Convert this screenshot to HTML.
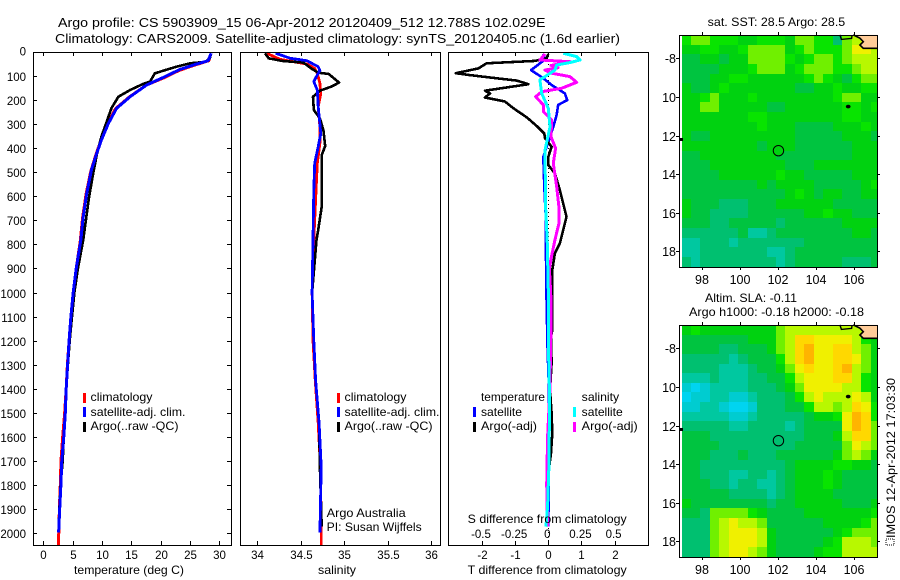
<!DOCTYPE html>
<html lang="en">
<head>
<meta charset="utf-8">
<title>Argo profile</title>
<style>
html,body{margin:0;padding:0;background:#fff;}
svg{display:block;font-family:"Liberation Sans",sans-serif;}
text{fill:#000;}
</style>
</head>
<body>
<svg id="chart" xmlns="http://www.w3.org/2000/svg" width="900" height="580" viewBox="0 0 900 580">
<rect x="0" y="0" width="900" height="580" fill="#fff"/>
<defs>
<clipPath id="clip-t"><rect x="33" y="52" width="198" height="493"/></clipPath>
<clipPath id="clip-s"><rect x="240" y="52" width="200" height="493"/></clipPath>
<clipPath id="clip-d"><rect x="448" y="52" width="200" height="493"/></clipPath>
<clipPath id="clip-m1"><rect x="681" y="35" width="196" height="232"/></clipPath>
<clipPath id="clip-m2"><rect x="681" y="325" width="196" height="232"/></clipPath>
</defs>
</svg>
<script>
// ---------- profile data (depth in m) ----------
var tempClimDepth=[4,35,52,75,108,136,187,235,300,368,424,495,590,688,785,900,1000,1100,1200,1300,1400,1500,1600,1700,1800,1900,2000,2052];
var tempClimValues=[28.6,28.2,26.0,23.2,20.4,17.6,14.6,12.3,10.9,9.8,9.0,8.1,7.3,6.7,6.3,5.6,5.1,4.7,4.4,4.1,3.9,3.65,3.3,3.02,2.9,2.75,2.65,2.56];
var tempArgoDepth=[4,25,40,46,60,76,88,122,132,157,185,233,296,351,428,504,601,726,782,900,1000,1100,1200,1300,1400,1500,1600,1700,1800,1900,1985];
var tempArgoValues=[28.6,28.4,27.6,25,22.7,20.5,19,18.2,17,14.8,12.8,11.6,10.7,9.9,9.1,8.5,7.8,7.1,6.8,5.9,5.3,4.9,4.5,4.2,3.9,3.75,3.5,3.3,2.95,2.75,2.6];
var tempSatDepth=[4,35,49,71,104,136,185,233,296,365,421,490,588,685,782,900,1000,1100,1200,1300,1400,1500,1600,1700,1800,1900,2000];
var tempSatValues=[28.6,28.1,26.1,23.3,20.5,17.6,14.8,12.5,11.1,9.9,9.1,8.2,7.4,6.8,6.4,5.6,5.1,4.7,4.4,4.15,3.9,3.75,3.5,3.15,3.0,2.8,2.6];

var salClimDepth=[4,29,49,67,88,129,171,226,310,379,462,615,782,1000,1200,1364,1544,1725,1975,2052];
var salClimValues=[34.11,34.26,34.57,34.66,34.69,34.72,34.73,34.70,34.72,34.72,34.69,34.67,34.65,34.63,34.64,34.665,34.7,34.725,34.735,34.735];
var salArgoDepth=[4,25,36,43,67,85,90,126,143,160,185,240,275,324,390,428,643,740,782,1000,1200,1364,1544,1725,1975];
var salArgoValues=[34.09,34.13,34.28,34.53,34.62,34.70,34.82,34.94,34.85,34.72,34.64,34.65,34.72,34.76,34.78,34.74,34.74,34.70,34.68,34.63,34.65,34.67,34.71,34.72,34.74];
var salSatDepth=[4,25,35,60,76,94,122,157,226,338,393,462,574,782,1000,1200,1364,1544,1725,1900,2000];
var salSatValues=[34.21,34.38,34.57,34.70,34.72,34.69,34.65,34.69,34.70,34.73,34.70,34.66,34.65,34.64,34.63,34.65,34.67,34.71,34.735,34.725,34.72];

var diffTempArgoDepth=[7,25,36,46,67,87,94,104,118,133,160,171,188,205,233,271,307,338,358,393,435,469,504,574,685,795,837,906,1156,1184,1295,1406,1503,1586,1669,1753,1836,1919,1975];
var diffTempArgoValues=[0,-0.05,-0.4,-1.86,-2.11,-2.79,-2.41,-1.81,-0.95,-0.6,-1.91,-1.76,-1.91,-1.31,-1.05,-0.65,-0.35,-0.12,-0.1,0.1,0,0,0.2,0.35,0.55,0.35,0.2,0.12,0.12,0.08,0.1,0.05,0.1,0.12,0.08,0,-0.05,-0.04,-0.02];
var diffTempSatDepth=[7,30,74,108,136,171,199,219,261,310,365,435,560,671,782,850,1045,1239,1406,1700,1975];
var diffTempSatValues=[-0.15,-0.1,-0.52,-0.15,0.1,0.5,0.57,0.3,0.25,0.15,0.02,-0.15,-0.12,-0.08,-0.08,-0.07,-0.05,-0.02,0.02,0.02,0];
var diffSalArgoDepth=[7,32,39,55,64,74,87,101,125,150,164,185,219,247,282,351,400,462,560,643,713,782,860,900,1030,1130,1406,1600,1800,1975];
var diffSalArgoValues=[-0.025,-0.063,0.163,0.02,0.075,-0.025,0.025,0.163,0.214,0.1,-0.05,-0.095,-0.038,-0.038,0.025,0.02,0.055,0.038,0.063,0.08,0.08,0.05,0.02,0.008,0.02,0.02,0.012,-0.005,-0.012,-0.005];
var diffSalSatDepth=[4,18,32,43,53,74,115,171,233,310,407,643,782,990,1198,1406,1503,1711,1891,1975];
var diffSalSatValues=[0.113,0.214,0.239,0.163,0.063,0.05,-0.063,-0.05,0,0.013,-0.025,-0.02,-0.008,0,0,0.008,0.008,0.005,-0.005,-0.018];

// ---------- tick labels ----------
var depthTicks=[0,100,200,300,400,500,600,700,800,900,1000,1100,1200,1300,1400,1500,1600,1700,1800,1900,2000];
var tempTicks=[0,5,10,15,20,25,30];
var salTicks=[34,34.5,35,35.5,36];
var diffTempTicks=[-2,-1,0,1,2];
var diffSalTicks=[-0.5,-0.25,0,0.25,0.5];
var lonTicks=[98,100,102,104,106];
var latTicks=[-8,-10,-12,-14,-16,-18];

// ---------- map grids (colour-scale level per 0.5 degree cell, north to south) ----------
var sstLevels=[
[6,7,7,6,6,6,5,5,6,6,6,5,7,7,6,6,3,7,8,9,9],
[5,5,6,6,5,5,6,7,7,7,7,5,6,7,6,6,6,7,9,9,8],
[4,4,5,5,4,5,5,7,7,7,7,6,5,6,7,7,6,7,8,8,8],
[4,4,4,4,5,5,5,6,7,7,7,5,6,7,7,7,6,6,7,8,8],
[4,4,4,5,5,6,6,5,5,5,5,5,5,6,7,6,5,4,6,7,7],
[5,4,4,5,6,5,5,5,5,5,5,5,4,4,5,5,6,5,5,6,6],
[5,5,6,7,5,5,5,6,5,5,5,5,5,5,5,5,6,7,7,5,5],
[5,5,7,7,5,5,5,5,5,4,4,5,5,5,5,5,5,6,6,5,6],
[5,5,5,5,5,5,5,6,6,5,5,5,5,5,5,5,5,6,6,5,5],
[5,5,5,5,5,5,5,5,6,5,5,5,4,4,4,4,5,5,5,6,5],
[5,4,4,5,5,5,5,5,5,5,5,5,4,4,4,4,4,5,5,5,4],
[5,5,5,5,5,5,5,5,4,5,5,5,4,4,4,4,4,4,5,5,5],
[4,4,5,5,5,5,5,5,5,5,4,4,4,4,4,4,4,4,5,5,5],
[4,4,4,5,5,5,5,5,5,5,5,4,4,4,5,5,5,5,5,5,5],
[4,4,4,4,5,5,5,5,5,5,6,5,5,4,4,4,4,4,5,5,5],
[4,4,4,4,4,4,4,4,5,4,5,5,5,5,4,4,4,4,4,5,6],
[4,4,4,4,4,4,4,4,4,4,4,5,6,5,4,5,5,4,4,5,5],
[5,4,4,4,3,3,3,4,4,4,5,5,5,5,5,5,4,4,4,4,4],
[5,4,4,3,3,3,3,4,4,4,4,4,4,5,5,6,5,5,4,4,4],
[4,4,4,3,3,4,4,4,4,4,3,4,4,4,4,4,4,5,5,5,5],
[3,3,3,3,3,3,4,2,2,3,4,4,4,4,4,4,4,4,5,5,4],
[2,2,3,3,3,2,3,3,3,3,3,3,3,4,4,4,4,4,4,4,4],
[2,2,3,3,3,3,3,3,3,2,2,3,4,4,4,4,4,4,4,4,4],
[3,2,3,3,3,3,3,3,3,3,2,3,4,4,4,4,4,3,3,3,4]];
var slaLevels=[
[5,6,5,5,5,5,5,5,5,5,7,8,8,8,8,8,8,8,8,8,8],
[4,4,4,4,4,4,4,5,5,5,7,8,10,10,9,9,9,9,8,6,5],
[4,4,4,4,3,3,4,4,4,5,7,8,10,11,9,9,10,10,8,7,5],
[3,3,3,3,3,2,3,4,4,4,6,8,10,11,9,9,10,10,9,7,5],
[3,3,3,3,2,2,2,3,4,4,5,7,9,10,9,9,10,11,8,7,5],
[2,2,2,3,2,2,2,3,3,4,4,6,8,9,9,9,10,10,8,6,5],
[1,0,1,2,2,2,2,3,3,3,4,5,7,9,9,9,9,8,8,6,5],
[0,1,1,2,2,1,1,2,3,3,3,4,6,8,9,8,8,8,9,8,5],
[1,1,2,2,1,0,0,1,3,3,3,4,4,6,8,8,7,8,10,9,6],
[2,2,2,2,2,1,1,2,3,3,3,3,3,4,5,5,6,9,11,10,6],
[3,3,3,3,3,2,2,3,3,3,3,2,3,4,4,4,4,9,11,10,7],
[4,4,4,3,3,3,3,3,3,3,3,3,3,4,4,4,5,8,10,10,7],
[4,4,4,4,3,3,3,3,3,3,3,3,4,4,4,4,4,7,9,8,7],
[4,4,4,3,3,3,4,3,3,3,4,4,4,4,4,4,5,7,8,7,5],
[4,4,3,3,3,3,3,3,3,3,3,4,5,5,5,5,6,6,5,5,4],
[4,4,3,3,3,2,2,3,3,2,3,4,5,5,5,6,5,4,4,4,4],
[4,4,4,3,3,2,3,3,2,2,3,4,5,5,5,6,5,4,4,4,4],
[4,4,4,4,4,3,3,3,3,2,3,4,5,5,5,5,4,4,4,4,4],
[5,4,4,4,4,4,4,4,4,3,4,4,5,5,5,5,5,4,4,4,5],
[4,4,3,7,7,7,7,6,5,4,4,4,4,5,5,5,5,5,5,5,6],
[3,3,3,7,8,9,8,8,7,4,4,4,4,4,4,5,5,5,5,6,7],
[3,3,3,7,8,9,9,9,8,5,4,4,4,4,4,4,5,6,7,7,7],
[3,3,3,7,8,9,9,9,8,5,4,4,4,4,4,5,6,8,8,8,7],
[3,3,3,7,8,9,9,8,7,5,4,4,4,4,5,6,6,8,8,8,8]];
var levelColours=['#00d4f0','#00ccd0','#00c8a0','#00c070','#00c440','#00d210','#08e400','#70f000','#b8f800','#f0f000','#ffd800','#ffb400'];

// ---------- coastline and markers (lon, lat) ----------
var landLon=[105.99,106.34,106.52,106.34,106.52,107.26,107.26,105.99];
var landLat=[-6.79,-6.96,-7.14,-7.31,-7.48,-7.48,-6.79,-6.79];
var isletLon=[105.28,105.36,105.9,105.92];
var isletLat=[-6.79,-7.02,-6.97,-6.84];
var argoLon=102.029;
var argoLat=-12.788;
var argoSstLevel=5;
var argoSlaLevel=3;

// ---------- axis functions ----------
function depthY(d){return 52.3+d*0.2402;}
function tempX(t){return 43.3+t*5.867;}
function salX(s){return 257.3+(s-34)*87;}
function diffTX(t){return 548.3+t*33.15;}
function diffSX(s){return 548.3+s*4*33.15;}
function lonX(l){return 702.3+(l-98)*18.9;}
function latY(l,top){return top+23.3+(-8-l)*19.3;}

var NS='http://www.w3.org/2000/svg';
var svg=document.getElementById('chart');
function mk(tag,attrs,name,parent){
  var el=document.createElementNS(NS,tag);
  for(var k in attrs){el.setAttribute(k,attrs[k]);}
  
  
  (parent||svg).appendChild(el);
  return el;
}
function label(x,y,str,name,opts){
  opts=opts||{};
  var a={x:x,y:y,'font-size':opts.size||12,'text-anchor':opts.anchor||'start'};
  if(opts.len){a.textLength=opts.len;a.lengthAdjust='spacingAndGlyphs';}
  if(opts.transform){a.transform=opts.transform;}
  var t=mk('text',a,name);
  t.textContent=str;
  return t;
}
function hline(x1,y1,x2,y2,name,parent){
  return mk('line',{x1:x1,y1:y1,x2:x2,y2:y2,stroke:'#000','stroke-width':1,'shape-rendering':'crispEdges'},name,parent);
}
function series(xf,vals,deps,col,w,clip,name){
  var pts=[];
  for(var i=0;i<vals.length;i++){pts.push(xf(vals[i]).toFixed(1)+','+depthY(deps[i]).toFixed(1));}
  mk('polyline',{points:pts.join(' '),fill:'none',stroke:col,'stroke-width':w,'stroke-linejoin':'round','shape-rendering':'crispEdges','clip-path':'url(#'+clip+')'},name);
}
function frame(x,y,w,h,name){
  mk('rect',{x:x+0.5,y:y+0.5,width:w,height:h,fill:'none',stroke:'#000','stroke-width':1.2,'shape-rendering':'crispEdges'},name);
}
function legendMark(x,y,col,name){
  mk('rect',{x:x-1,y:y,width:3,height:10,fill:col},name);
}

// ---------- titles ----------
label(58,27,'Argo profile: CS 5903909_15 06-Apr-2012 20120409_512 12.788S 102.029E','title-line-1',{size:13,len:487.5});
label(55,43,'Climatology: CARS2009. Satellite-adjusted climatology: synTS_20120405.nc (1.6d earlier)','title-line-2',{size:13,len:565});

// ---------- temperature panel ----------
var tg=mk('g',{},'temperature-ticks');
depthTicks.forEach(function(d){
  var y=Math.round(depthY(d))+0.5;
  hline(33,y,37,y,'depth-tick-left',tg);
  hline(227,y,231,y,'depth-tick-right',tg);
  label(26,y+(d===0?3:4.5),String(d),'depth-tick-label',{anchor:'end',size:11.5});
});
tempTicks.forEach(function(t){
  var x=Math.round(tempX(t))+0.5;
  hline(x,52,x,56,'temperature-tick-top',tg);
  hline(x,541,x,545,'temperature-tick-bottom',tg);
  label(x,559,String(t),'temperature-tick-label',{anchor:'middle',size:11.5});
});
series(tempX,tempClimValues,tempClimDepth,'#ff0000',3,'clip-t','temperature-climatology-line');
series(tempX,tempArgoValues,tempArgoDepth,'#000000',2.6,'clip-t','temperature-argo-line');
series(tempX,tempSatValues,tempSatDepth,'#0000ff',3,'clip-t','temperature-satellite-line');
frame(33,52,198,493,'temperature-panel-frame');
label(74,574,'temperature (deg C)','temperature-axis-title',{len:110});
legendMark(84,393,'#ff0000','temperature-legend-climatology-mark');
legendMark(84,407,'#0000ff','temperature-legend-satellite-mark');
legendMark(84,422,'#000000','temperature-legend-argo-mark');
label(90.5,401,'climatology','temperature-legend-climatology',{len:62});
label(90.5,416,'satellite-adj. clim.','temperature-legend-satellite',{len:95});
label(90.5,430,'Argo(..raw -QC)','temperature-legend-argo',{len:88});

// ---------- salinity panel ----------
var sg=mk('g',{},'salinity-ticks');
salTicks.forEach(function(s){
  var x=Math.round(salX(s))+0.5;
  hline(x,52,x,56,'salinity-tick-top',sg);
  hline(x,541,x,545,'salinity-tick-bottom',sg);
  label(x,559,String(s),'salinity-tick-label',{anchor:'middle',size:11.5});
});
series(salX,salClimValues,salClimDepth,'#ff0000',2.8,'clip-s','salinity-climatology-line');
series(salX,salArgoValues,salArgoDepth,'#000000',2.6,'clip-s','salinity-argo-line');
series(salX,salSatValues,salSatDepth,'#0000ff',2.8,'clip-s','salinity-satellite-line');
frame(240,52,200,493,'salinity-panel-frame');
label(318,574,'salinity','salinity-axis-title',{len:38});
legendMark(338,393,'#ff0000','salinity-legend-climatology-mark');
legendMark(338,407,'#0000ff','salinity-legend-satellite-mark');
legendMark(338,422,'#000000','salinity-legend-argo-mark');
label(344.5,401,'climatology','salinity-legend-climatology',{len:62});
label(344.5,416,'satellite-adj. clim.','salinity-legend-satellite',{len:95});
label(344.5,430,'Argo(..raw -QC)','salinity-legend-argo',{len:88});
label(326.7,517,'Argo Australia','argo-australia-note',{len:79});
label(326.7,531,'PI: Susan Wijffels','pi-note',{len:95});

// ---------- difference panel ----------
var dg=mk('g',{},'difference-ticks');
diffTempTicks.forEach(function(t){
  var x=Math.round(diffTX(t))+0.5;
  hline(x,52,x,56,'t-difference-tick-top',dg);
  hline(x,541,x,545,'t-difference-tick-bottom',dg);
  label(x,559,String(t),'t-difference-tick-label',{anchor:'middle',size:11.5});
});
diffSalTicks.forEach(function(s){
  label(diffSX(s)-1,538,String(s),'s-difference-tick-label',{anchor:'middle',size:11.5});
});
mk('line',{x1:548.5,y1:52,x2:548.5,y2:545,stroke:'#000','stroke-width':1,'stroke-dasharray':'1 3','shape-rendering':'crispEdges'},'zero-difference-line');
series(diffTX,diffTempSatValues,diffTempSatDepth,'#0000ff',2.6,'clip-d','t-difference-satellite-line');
series(diffTX,diffTempArgoValues,diffTempArgoDepth,'#000000',2.6,'clip-d','t-difference-argo-line');
series(diffSX,diffSalArgoValues,diffSalArgoDepth,'#ff00ff',3,'clip-d','s-difference-argo-line');
series(diffSX,diffSalSatValues,diffSalSatDepth,'#00ffff',3,'clip-d','s-difference-satellite-line');
frame(448,52,200,493,'difference-panel-frame');
label(467.7,523,'S difference from climatology','s-difference-axis-title',{len:159});
label(467.7,574,'T difference from climatology','t-difference-axis-title',{len:159});
legendMark(474,407,'#0000ff','difference-legend-temp-satellite-mark');
legendMark(474,422,'#000000','difference-legend-temp-argo-mark');
legendMark(574,407,'#00ffff','difference-legend-sal-satellite-mark');
legendMark(574,422,'#ff00ff','difference-legend-sal-argo-mark');
label(481,401,'temperature','difference-legend-temperature-heading',{len:64});
label(481,416,'satellite','difference-legend-temp-satellite',{len:41});
label(481,430,'Argo(-adj)','difference-legend-temp-argo',{len:56});
label(581.7,401,'salinity','difference-legend-salinity-heading',{len:37.5});
label(581.7,416,'satellite','difference-legend-sal-satellite',{len:41});
label(581.7,430,'Argo(-adj)','difference-legend-sal-argo',{len:56});

// ---------- maps ----------
function drawMap(grid,top,clip,circleLevel,prefix){
  var g=mk('g',{'clip-path':'url(#'+clip+')'},prefix+'-heatmap');
  for(var r=0;r<grid.length;r++){
    for(var c=0;c<grid[r].length;c++){
      var lonA=96.9+c*0.5, latA=-6.79-r*0.5;
      var x0=Math.round(lonX(lonA)), x1=Math.round(lonX(lonA+0.5));
      var y0=Math.round(latY(latA,top)), y1=Math.round(latY(latA-0.5,top));
      mk('rect',{x:x0,y:y0,width:x1-x0,height:y1-y0,fill:levelColours[grid[r][c]],'shape-rendering':'crispEdges'},prefix+'-cell',g);
    }
  }
  var landPts=landLon.map(function(l,i){return lonX(l).toFixed(1)+','+latY(landLat[i],top).toFixed(1);}).join(' ');
  mk('polygon',{points:landPts,fill:'#ffcc99',stroke:'none'},prefix+'-land',svg);
  var coastPts=landLon.slice(0,6).map(function(l,i){return lonX(l).toFixed(1)+','+latY(landLat[i],top).toFixed(1);}).join(' ');
  mk('polyline',{points:coastPts,fill:'none',stroke:'#000','stroke-width':1.6},prefix+'-coastline');
  var isletPts=isletLon.map(function(l,i){return lonX(l).toFixed(1)+','+latY(isletLat[i],top).toFixed(1);}).join(' ');
  mk('polyline',{points:isletPts,fill:'none',stroke:'#000','stroke-width':1.4},prefix+'-islet');
  mk('ellipse',{cx:lonX(105.72),cy:latY(-10.5,top),rx:2.4,ry:1.8,fill:'#000'},prefix+'-christmas-island');
  mk('rect',{x:680,y:latY(-12.18,top)-1,width:3,height:3,fill:'#000'},prefix+'-west-marker');
  mk('circle',{cx:lonX(argoLon),cy:latY(argoLat,top),r:5.2,fill:levelColours[circleLevel],stroke:'#000','stroke-width':1},prefix+'-argo-position');
  frame(679,top,198,232,prefix+'-frame');
  lonTicks.forEach(function(l){
    var x=Math.round(lonX(l))+0.5;
    hline(x,top-3,x,top,prefix+'-lon-tick-top');
    hline(x,top+232,x,top+235,prefix+'-lon-tick-bottom');
    label(x-0.5,top+249,String(l),prefix+'-lon-tick-label',{anchor:'middle',size:12.5});
  });
  latTicks.forEach(function(l,i){
    var y=Math.round(latY(l,top))+0.5;
    hline(676,y,679,y,prefix+'-lat-tick-left');
    hline(877,y,880,y,prefix+'-lat-tick-right');
    label(676,y+4.5,i===0?'-8':String(-l),prefix+'-lat-tick-label',{anchor:'end',size:12.5});
  });
}
drawMap(sstLevels,35,'clip-m1',argoSstLevel,'sst-map');
drawMap(slaLevels,325,'clip-m2',argoSlaLevel,'sla-map');
label(707.7,26,'sat. SST: 28.5  Argo: 28.5','sst-map-title',{len:137.5});
label(705,302,'Altim. SLA: -0.11','sla-map-title-line-1',{len:92});
label(689,316,'Argo h1000: -0.18 h2000: -0.18','sla-map-title-line-2',{len:175});

// ---------- timestamp ----------
mk('rect',{x:886,y:539,width:8,height:6,fill:'none',stroke:'#000','stroke-width':1,'stroke-dasharray':'1 1'},'timestamp-glyph-box');
label(895,538,'IMOS 12-Apr-2012 17:03:30','timestamp',{size:12,len:160,transform:'rotate(-90 895 538)'});
</script>
</body>
</html>
